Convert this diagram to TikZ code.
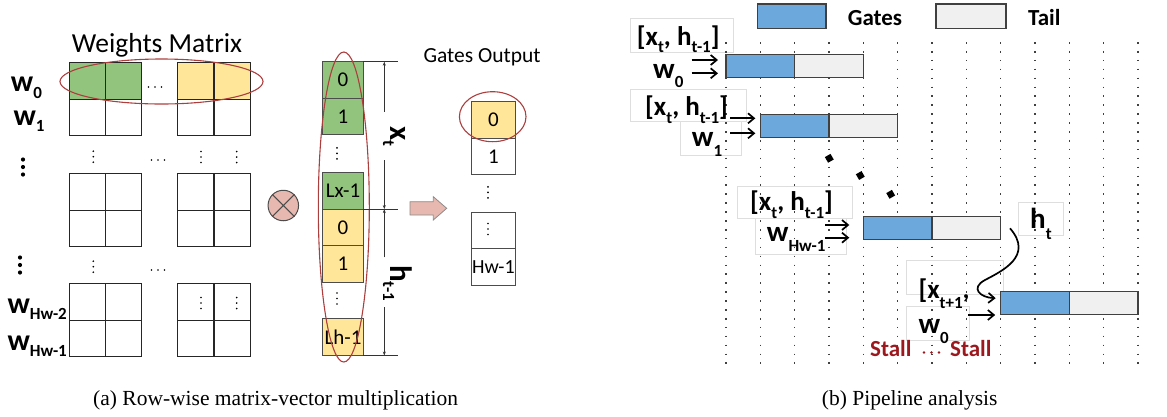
\documentclass[tikz,border=0pt]{standalone}
\usepackage{fontspec}
\setmainfont{Carlito}
\newfontfamily\capfont{Liberation Serif}
\usetikzlibrary{arrows.meta,calc}

\definecolor{cgreen}{RGB}{147,196,125}
\definecolor{cyellow}{RGB}{255,230,153}
\definecolor{cred}{RGB}{172,62,62}
\definecolor{cpink}{RGB}{230,184,175}
\definecolor{cblue}{RGB}{108,168,220}
\definecolor{ctail}{RGB}{240,240,240}
\definecolor{cstall}{RGB}{155,25,30}

\newcommand\fs[1]{\fontsize{#1}{#1}\selectfont}
\newcommand\lo[2][8]{\raisebox{-#1pt}{\fs{17}#2}}

\tikzset{
  mline/.style={draw=black!85, line width=1.1pt},
  cell/.style={draw=black!70, line width=1pt, minimum width=40.6pt, minimum height=36.6pt,
    inner sep=0pt, outer sep=0pt, anchor=north west, font=\fs{21}},
  ocell/.style={cell, minimum width=44.7pt},
  lab/.style={inner sep=0pt, anchor=base west, font=\bfseries\fs{29}},
  txt/.style={inner sep=0pt, anchor=base west},
  ring/.style={draw=cred, line width=1.1pt},
  dline/.style={draw=black!80, line width=0.6pt},
  dim/.style={draw=black!80, line width=0.6pt, -{Stealth[length=4pt,width=3pt]}},
  feed/.style={line width=1.7pt, -{Straight Barb[length=6pt,width=10pt,line width=1.7pt]}},
  bar/.style={draw=black!75, line width=1.2pt, minimum height=23pt, minimum width=68.67pt,
    inner sep=0pt, outer sep=0pt, anchor=north west},
  gate/.style={bar, fill=cblue},
  tail/.style={bar, fill=ctail},
  tbox/.style={draw=black!13, fill=white, line width=0.6pt},
  griddots/.style={draw=black!75, line width=1.6pt, dash pattern=on 1.6pt off 7.3pt},
  diam/.style={fill=black, rectangle, minimum size=6.5pt, inner sep=0pt, rotate=30},
  stall/.style={txt, font=\bfseries\fs{23}, text=cstall},
  vdot/.pic={\foreach \k in {-1,0,1} \fill (0,\k*5.5) circle (0.95pt);},
  hdot/.pic={\foreach \k in {-1,0,1} \fill (\k*6.5,0) circle (0.95pt);},
  bvdot/.pic={\foreach \k in {-1,0,1} \fill (0,\k*7.5) circle (2.1pt);},
  rdot/.pic={\foreach \k in {-1,0,1} \fill[cstall] (\k*7.5,0) circle (1.4pt);},
}

\begin{document}
\begin{tikzpicture}[x=1pt,y=-1pt]
\useasboundingbox (0,0) rectangle (1167,416);

% ---------------- (a) weights matrix ----------------
\node[txt, font=\fs{27.5}] (wmtitle) at (71.7,52.7) {Weights Matrix};

\fill[cgreen] (69.3,62.3) rectangle ++(72.6,36.8);
\fill[cyellow] (177.7,62.3) rectangle ++(72.6,36.8);
\foreach \bx in {69.3,177.7}
  \foreach \by in {62.3,173.3,283.3} {
    \draw[mline] (\bx,\by) rectangle ++(72.6,73.6);
    \draw[mline] ({\bx+36.3},\by) -- ++(0,73.6);
    \draw[mline] (\bx,{\by+36.8}) -- ++(72.6,0);
  }
\draw[ring] (161.5,81.5) ellipse (101.5pt and 22.5pt);

\pic at (155,87) {hdot};
\pic at (158,160) {hdot};
\pic at (158,270) {hdot};
\pic at (93.3,156.7) {vdot};
\pic at (201,157) {vdot};
\pic at (236.7,157) {vdot};
\pic at (93.3,266.7) {vdot};
\pic at (201,303) {vdot};
\pic at (236.7,303) {vdot};

\node[lab, font=\bfseries\fs{30}] (w0) at (10.7,91.7) {w\lo[6.5]{0}};
\node[lab, font=\bfseries\fs{30}] (w1) at (13.3,125) {w\lo[6.5]{1}};
\pic at (23,167) {bvdot};
\pic at (20,265) {bvdot};
\node[lab, font=\bfseries\fs{30}] (wh2) at (7.3,313.3) {w\lo[6]{Hw-2}};
\node[lab, font=\bfseries\fs{30}] (wh1) at (7.3,350) {w\lo[6]{Hw-1}};

% multiplication sign
\node[circle, draw=black!70, fill=cpink, minimum size=30.5pt, inner sep=0pt, line width=1pt] (mul) at (283.3,205.5) {};
\draw[black!70, line width=1pt] (mul.north west) -- (mul.south east) (mul.north east) -- (mul.south west);

% ---------------- input vector ----------------
\node[cell, fill=cgreen] (v0) at (322.7,61.7) {0};
\node[cell, fill=cgreen] (v1) at (322.7,98.3) {1};
\node[cell, fill=cgreen] (vx) at (322.7,172.5) {Lx-1};
\node[cell, fill=cyellow] (h0) at (322.7,209.1) {0};
\node[cell, fill=cyellow] (h1) at (322.7,245.7) {1};
\node[cell, fill=cyellow] (hl) at (322.7,318.9) {Lh-1};
\pic at (337,153.3) {vdot};
\pic at (337,298.5) {vdot};
\draw[ring] (343.8,207) ellipse (25.5pt and 155pt);

\coordinate (dt) at (398,61.7);
\coordinate (dm) at (398,209.1);
\coordinate (db) at (398,355.5);
\draw[dline] (v0.north east) -- (dt);
\draw[dline] (vx.south east) -- (dm);
\draw[dline] (hl.south east) -- (db);
\path (dt) ++(-13.7,0) coordinate (xt-top);
\path (dm) ++(-13.7,0) coordinate (xt-mid);
\path (db) ++(-13.7,0) coordinate (xt-bot);
\path (xt-top) -- (xt-mid) coordinate[pos=0.34] (xa1) coordinate[pos=0.67] (xa2);
\path (xt-mid) -- (xt-bot) coordinate[pos=0.33] (ha1) coordinate[pos=0.67] (ha2);
\draw[dim] (xa1) -- (xt-top);
\draw[dim] (xa2) -- (xt-mid);
\draw[dim] (ha1) -- (xt-mid);
\draw[dim] (ha2) -- (xt-bot);
\node[lab, anchor=base, rotate=-90, font=\bfseries\fs{31}] (xlab) at (390,136.7) {x\lo[7]{t}};
\node[lab, anchor=base, rotate=-90, font=\bfseries\fs{31}] (hlab) at (390,283) {h\lo[7]{t-1}};

% block arrow
\filldraw[fill=cpink, draw=black!45, line width=0.8pt]
  (410,201.7) -- (433.3,201.7) -- (433.3,196.7) -- (446.7,208.3) -- (433.3,220)
  -- (433.3,215) -- (410,215) -- cycle;

% ---------------- gates output ----------------
\node[txt, font=\fs{21.5}] (gotitle) at (423.3,62.7) {Gates Output};
\node[ocell, fill=cyellow] (o0) at (471,101.7) {0};
\node[ocell] (o1) at (471,138.3) {1};
\node[ocell] (o2) at (471,212.3) {};
\node[ocell, font=\fs{20}] (o3) at (471,248.9) {Hw-1};
\pic at (488,192.3) {vdot};
\pic at (488,229) {vdot};
\draw[ring] (492.7,116.7) ellipse (33.3pt and 25pt);

% ---------------- (b) pipeline ----------------
\node[gate, minimum width=68.7pt, minimum height=24.3pt] (lg) at (757.3,4) {};
\node[txt, font=\bfseries\fs{23}] (lgt) at (847.7,25) {Gates};
\node[tail, minimum width=70pt, minimum height=24.3pt] (lt) at (936,4) {};
\node[txt, font=\bfseries\fs{23}] (ltt) at (1028,25) {Tail};

% label frames
\draw[tbox] (630,18) rectangle (733,52);
\draw[tbox] (630,89.3) rectangle (746.7,121.7);
\draw[tbox] (680,121.7) rectangle (741.7,155);
\draw[tbox] (737.3,186) rectangle (852.7,218.3);
\draw[tbox] (755,218.3) rectangle (846.7,254);
\draw[tbox] (1018.3,202.7) rectangle (1063.3,235);
\draw[tbox] (906.7,260.7) rectangle (1003.3,294);
\draw[tbox] (906.7,306.7) rectangle (969.3,340);

% cycle grid
\foreach \k in {0,...,12}
  \draw[griddots] ({726+34.33*\k},42) -- ({726+34.33*\k},366);

% stage bars
\node[gate] (g1) at (726,54.3) {};
\node[tail] (t1) at (794.67,54.3) {};
\node[gate] (g2) at (760.33,114.3) {};
\node[tail] (t2) at (829,114.3) {};
\node[gate] (g3) at (863.33,216.7) {};
\node[tail] (t3) at (932,216.7) {};
\node[gate] (g4) at (1000.67,291.7) {};
\node[tail] (t4) at (1069.33,291.7) {};

\node[diam] (d1) at (829.3,158.3) {};
\node[diam] (d2) at (860.3,175.5) {};
\node[diam] (d3) at (890.7,194.3) {};

% stage inputs
\node[lab, font=\bfseries\fs{27}] (in1) at (636.7,45) {[x\lo[7]{t}, h\lo[7]{t-1}]};
\node[lab] (wa) at (653,78.3) {w\lo[9]{0}};
\node[lab, font=\bfseries\fs{27}] (in2) at (645,115) {[x\lo[8]{t}, h\lo[8]{t-1}]};
\node[lab] (wb) at (691.7,146.7) {w\lo[10]{1}};
\node[lab, font=\bfseries\fs{27}] (in3) at (750,210) {[x\lo[8]{t}, h\lo[8]{t-1}]};
\node[lab] (wc) at (766.7,241.7) {w\lo[10]{Hw-1}};
\node[lab] (ht) at (1030,228.3) {h\lo[11]{t}};
\node[lab, font=\bfseries\fs{27}] (in4) at (918.3,298.3) {[x\lo[10]{t+1},};
\node[lab] (wd) at (918.3,333.3) {w\lo[10]{0}};

\coordinate (f1a) at (691.7,60);
\coordinate (f1b) at (691.7,73.3);
\coordinate (f2a) at (730,118.3);
\coordinate (f2b) at (730,133.3);
\coordinate (f3a) at (825,225);
\coordinate (f3b) at (825,237.7);
\coordinate (f4b) at (968.3,315);
\coordinate (hs) at (1010,228.3);
\draw[feed, shorten >=8pt] (f1a) -- (f1a -| g1.west);
\draw[feed, shorten >=8pt] (f1b) -- (f1b -| g1.west);
\draw[feed, shorten >=5pt] (f2a) -- (f2a -| g2.west);
\draw[feed, shorten >=5pt] (f2b) -- (f2b -| g2.west);
\draw[feed, shorten >=14pt] (f3a) -- (f3a -| g3.west);
\draw[feed, shorten >=14pt] (f3b) -- (f3b -| g3.west);
\draw[feed, shorten >=5.5pt] (f4b) -- (f4b -| g4.west);
\draw[feed] (hs) .. controls (1034,256) and (1002,271) .. (985,280)
  .. controls (970,288) and (980,297.5) .. ($(g4.north west)+(-5,6.5)$);

\node[stall] (s1) at (870,356.7) {Stall};
\node[stall] (s2) at (950,356.7) {Stall};
\pic at (931.5,352.5) {rdot};

% captions
\node[txt, font=\capfont\fs{21.5}] (capa) at (93,405.5) {(a) Row-wise matrix-vector multiplication};
\node[txt, font=\capfont\fs{21.5}] (capb) at (821.7,405.5) {(b) Pipeline analysis};
\end{tikzpicture}
\end{document}
